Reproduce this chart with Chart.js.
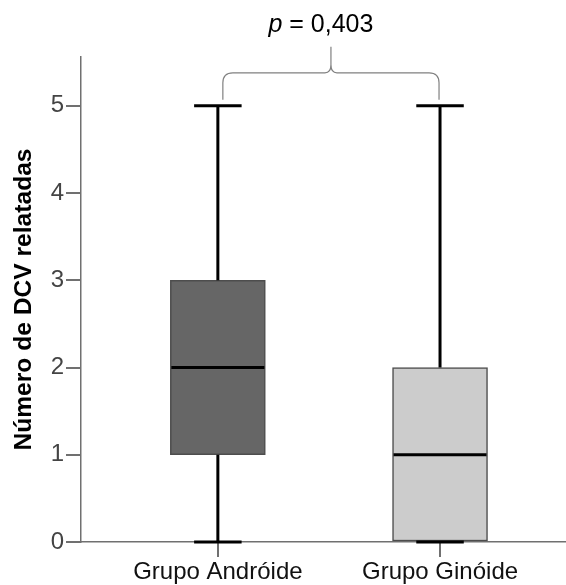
<!DOCTYPE html>
<html>
<head>
<meta charset="utf-8">
<script src="https://cdn.jsdelivr.net/npm/chart.js@4"></script>
<style>
  html, body { margin: 0; padding: 0; background: #fff; }
  canvas { display: block; }
</style>
</head>
<body>
<canvas id="boxChart" width="566" height="585"></canvas>
<script>
(function () {
    const grupos = ['Grupo Andróide', 'Grupo Ginóide'];
    const minimos = [0, 0];
    const q1 = [1, 0];
    const medianas = [2, 1];
    const q3 = [3, 2];
    const maximos = [5, 5];
    const yTicks = [0, 1, 2, 3, 4, 5];
    const pTexto = '0,403';

    const cores = ['#666666', '#cccccc'];
    const eixoCor = '#707070';
    const fonte = '"Liberation Sans", Arial, sans-serif';

    // whiskers, medianas, chaveta e p-valor
    const boxExtras = {
        id: 'boxExtras',
        afterDatasetsDraw(chart) {
            const ctx = chart.ctx;
            const x = chart.scales.x, y = chart.scales.y;
            const meta = chart.getDatasetMeta(0);
            ctx.save();
            ctx.strokeStyle = '#000';
            ctx.lineWidth = 3;
            ctx.lineCap = 'butt';
            grupos.forEach(function (g, i) {
                const px = x.getPixelForValue(i);
                const bw = meta.data[i].width;
                const capW = bw / 2;
                const line = function (x1, y1, x2, y2) {
                    ctx.beginPath(); ctx.moveTo(x1, y1); ctx.lineTo(x2, y2); ctx.stroke();
                };
                if (maximos[i] > q3[i]) line(px, y.getPixelForValue(maximos[i]), px, y.getPixelForValue(q3[i]));
                if (minimos[i] < q1[i]) line(px, y.getPixelForValue(q1[i]), px, y.getPixelForValue(minimos[i]));
                line(px - capW / 2, y.getPixelForValue(maximos[i]), px + capW / 2, y.getPixelForValue(maximos[i]));
                line(px - capW / 2, y.getPixelForValue(minimos[i]), px + capW / 2, y.getPixelForValue(minimos[i]));
                line(px - bw / 2 + 1, y.getPixelForValue(medianas[i]), px + bw / 2 - 1, y.getPixelForValue(medianas[i]));
            });
            ctx.restore();
        },
        afterDraw(chart) {
            const ctx = chart.ctx;
            const x = chart.scales.x, y = chart.scales.y;
            const x1 = x.getPixelForValue(0) + 5;
            const x2 = x.getPixelForValue(1) - 1;
            const mid = (x1 + x2) / 2;
            const yBase = y.getPixelForValue(maximos[0]) - 6;
            const yH = yBase - 27;
            const yTop = yH - 26;
            const r = 10;
            ctx.save();
            ctx.strokeStyle = '#808080';
            ctx.lineWidth = 1.2;
            ctx.beginPath();
            ctx.moveTo(x1, yBase);
            ctx.lineTo(x1, yH + r);
            ctx.quadraticCurveTo(x1, yH, x1 + r, yH);
            ctx.lineTo(mid - 6, yH);
            ctx.quadraticCurveTo(mid, yH, mid, yH - 8);
            ctx.lineTo(mid, yTop);
            ctx.moveTo(mid, yH - 8);
            ctx.quadraticCurveTo(mid, yH, mid + 6, yH);
            ctx.lineTo(x2 - r, yH);
            ctx.quadraticCurveTo(x2, yH, x2, yH + r);
            ctx.lineTo(x2, yBase);
            ctx.stroke();

            ctx.fillStyle = '#000';
            ctx.textBaseline = 'alphabetic';
            ctx.textAlign = 'left';
            const fItal = 'italic 25px ' + fonte;
            const fNorm = '25px ' + fonte;
            ctx.font = fItal;
            const wp = ctx.measureText('p').width;
            ctx.font = fNorm;
            const resto = ' = ' + pTexto;
            const wr = ctx.measureText(resto).width;
            let tx = mid - 10 - (wp + wr) / 2;
            ctx.font = fItal;
            ctx.fillText('p', tx, 32);
            ctx.font = fNorm;
            ctx.fillText(resto, tx + wp, 32);
            ctx.restore();
        }
    };

    new Chart(document.getElementById('boxChart'), {
        type: 'bar',
        data: {
            datasets: [{
                data: grupos.map(function (g, i) { return { x: i, y: [q1[i], q3[i]] }; }),
                backgroundColor: cores,
                borderColor: '#4d4d4d',
                borderWidth: 1.5,
                borderSkipped: false,
                barThickness: 95
            }]
        },
        options: {
            responsive: false,
            animation: false,
            layout: { padding: { top: 57, right: 0, left: 0, bottom: 0 } },
            plugins: { legend: { display: false }, tooltip: { enabled: false } },
            scales: {
                x: {
                    type: 'linear',
                    offset: false,
                    min: -0.616,
                    max: 1.567,
                    afterBuildTicks: function (s) { s.ticks = grupos.map(function (g, i) { return { value: i }; }); },
                    afterFit: function (s) { s.height = 43; },
                    ticks: {
                        callback: function (v) { return grupos[v]; },
                        color: '#111',
                        font: { family: fonte, size: 24 },
                        padding: 1,
                        maxRotation: 0,
                        autoSkip: false
                    },
                    grid: { offset: false, drawOnChartArea: false, drawTicks: true, tickLength: 15, color: eixoCor, lineWidth: 2 },
                    border: { color: eixoCor, width: 1.5 }
                },
                y: {
                    min: 0,
                    max: 5.56,
                    afterBuildTicks: function (s) { s.ticks = yTicks.map(function (v) { return { value: v }; }); },
                    afterFit: function (s) { s.width = 81; },
                    ticks: {
                        color: '#444',
                        font: { family: fonte, size: 24 },
                        padding: 2
                    },
                    grid: { drawOnChartArea: false, drawTicks: true, tickLength: 15, color: eixoCor, lineWidth: 2 },
                    border: { color: eixoCor, width: 1.5 },
                    title: {
                        display: true,
                        text: 'Número de DCV relatadas',
                        color: '#000',
                        font: { family: fonte, size: 24.6, weight: 'bold' },
                        padding: { top: 9, bottom: 0 }
                    }
                }
            }
        },
        plugins: [boxExtras]
    });
})();
</script>
</body>
</html>
